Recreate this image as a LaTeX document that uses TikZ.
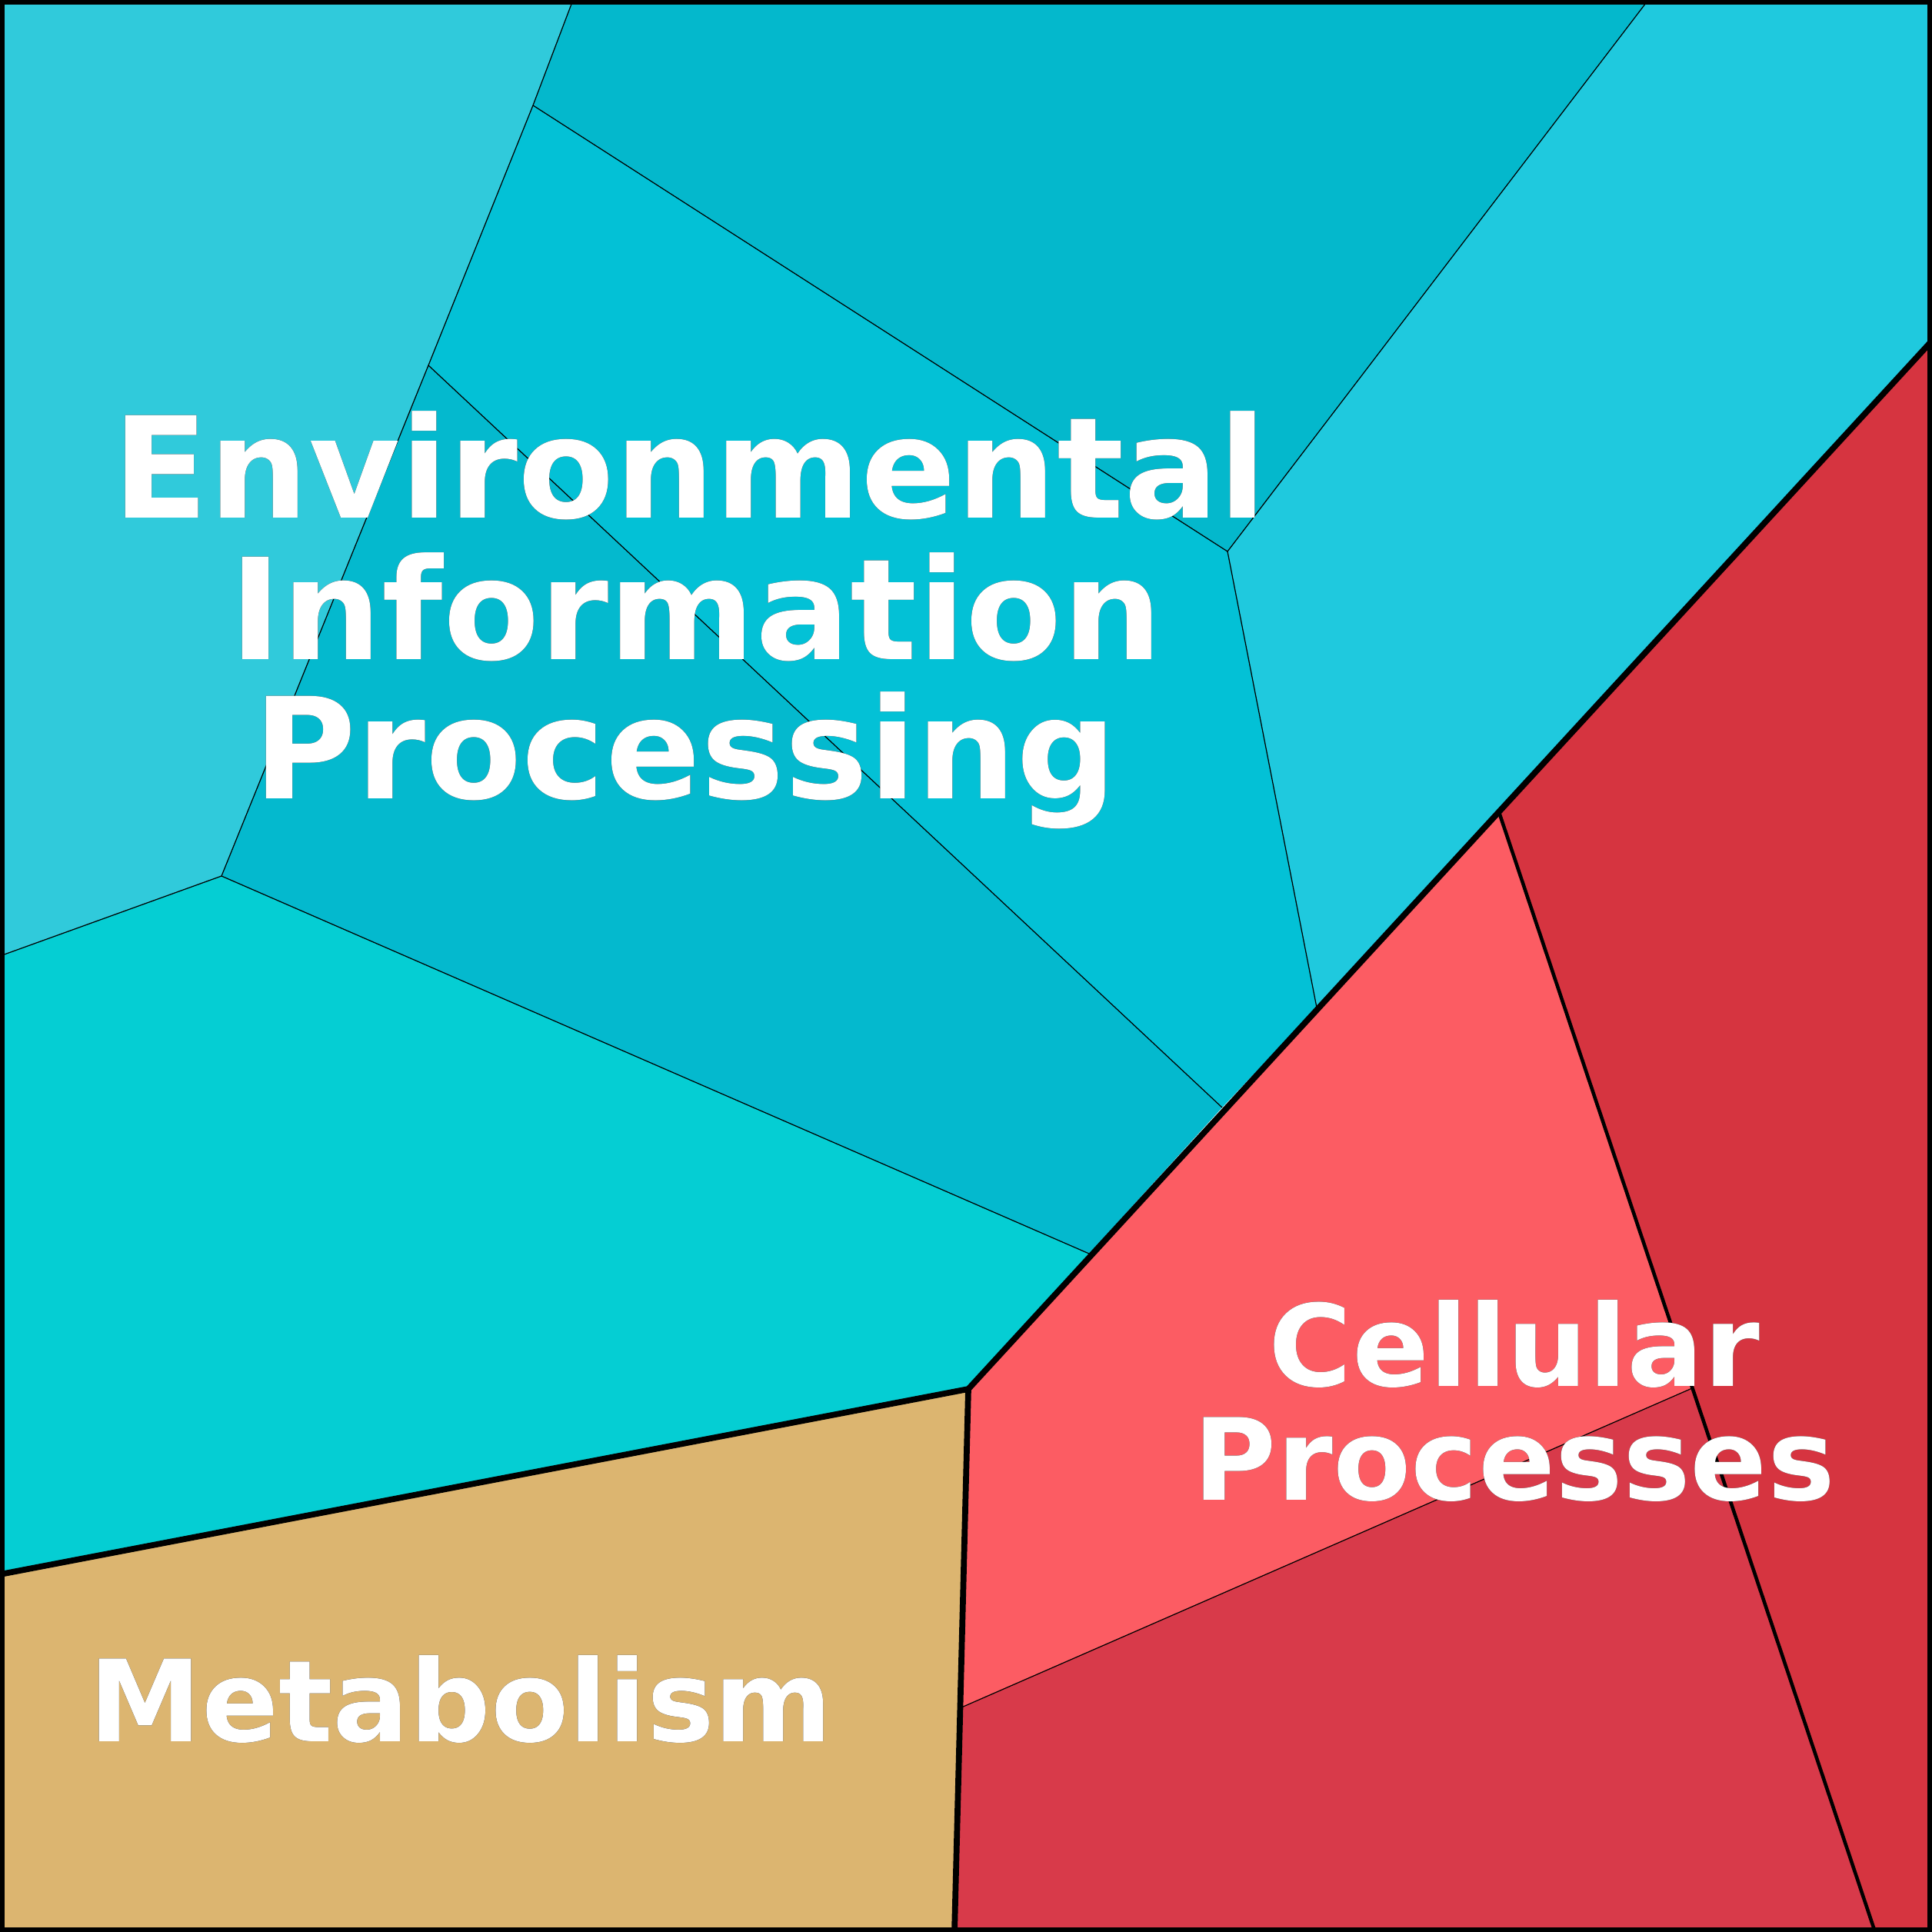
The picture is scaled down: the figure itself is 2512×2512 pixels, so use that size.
\documentclass[tikz,border=0pt]{standalone}
\usepackage{fontspec}
\setmainfont{DejaVu Sans}
\usepackage[outline]{contour}
\contourlength{0.8pt}
\begin{document}
\begin{tikzpicture}[x=0.01cm,y=-0.01cm,
  thin edge/.style={draw=black,line width=0.35pt},
  lbl/.style={text=white,font=\bfseries\fontsize{52}{52}\selectfont,inner sep=0,anchor=base},
  slbl/.style={lbl,font=\bfseries\fontsize{42}{42}\selectfont}]
\useasboundingbox (0,0) rectangle (2512,2512);
\fill[fill={rgb,255:red,48;green,202;blue,219}] (0,0)--(745,0)--(693,137)--(557,475)--(288,1139)--(0,1243)--cycle;
\fill[fill={rgb,255:red,4;green,184;blue,204}] (745,0)--(2143,0)--(1596,717)--(693,137)--cycle;
\fill[fill={rgb,255:red,31;green,201;blue,222}] (2143,0)--(2512,0)--(2512,443)--(1712,1310)--(1596,717)--cycle;
\fill[fill={rgb,255:red,3;green,193;blue,214}] (693,137)--(1596,717)--(1712,1310)--(1589,1440)--(557,475)--cycle;
\fill[fill={rgb,255:red,4;green,185;blue,206}] (557,475)--(1589,1440)--(1416,1630)--(288,1139)--cycle;
\fill[fill={rgb,255:red,5;green,206;blue,211}] (0,1243)--(288,1139)--(1416,1630)--(1259,1806)--(0,2047)--cycle;
\fill[fill={rgb,255:red,220;green,181;blue,112}] (0,2047)--(1259,1806)--(1241,2512)--(0,2512)--cycle;
\fill[fill={rgb,255:red,252;green,92;blue,99}] (1259,1806)--(1948,1053)--(2200,1805)--(1250,2220)--cycle;
\fill[fill={rgb,255:red,216;green,58;blue,74}] (1250,2220)--(2200,1805)--(2438,2512)--(1241,2512)--cycle;
\fill[fill={rgb,255:red,214;green,52;blue,64}] (1948,1053)--(2512,443)--(2512,2512)--(2438,2512)--cycle;
% thin edges
\draw[thin edge] (745,0)--(693,137)--(557,475)--(288,1139)--(0,1243);
\draw[thin edge] (693,137)--(1596,717)--(2143,0);
\draw[thin edge] (1596,717)--(1712,1310);
\draw[thin edge] (557,475)--(1589,1440);
\draw[thin edge] (288,1139)--(1416,1630);
\draw[thin edge] (1250,2220)--(2200,1805);
% thicker edges
\draw[line width=1.3pt] (1948,1053)--(2438,2512);
\draw[line width=2.2pt,line join=round] (2512,443)--(1259,1806);
\draw[line width=2.2pt,line join=round] (0,2047)--(1259,1806)--(1241,2512);
\draw[line width=3.4pt] (0,0) rectangle (2512,2512);
% labels
\node[lbl] (eip1) at (897,673) {\contour{black}{Environmental}};
\node[lbl] (eip2) at (905,857) {\contour{black}{Information}};
\node[lbl] (eip3) at (891,1038) {\contour{black}{Processing}};
\node[slbl] (cp1) at (1969,1802) {\contour{black}{Cellular}};
\node[slbl] (cp2) at (1969,1950) {\contour{black}{Processes}};
\node[slbl] (met) at (599,2264) {\contour{black}{Metabolism}};
\end{tikzpicture}
\end{document}
